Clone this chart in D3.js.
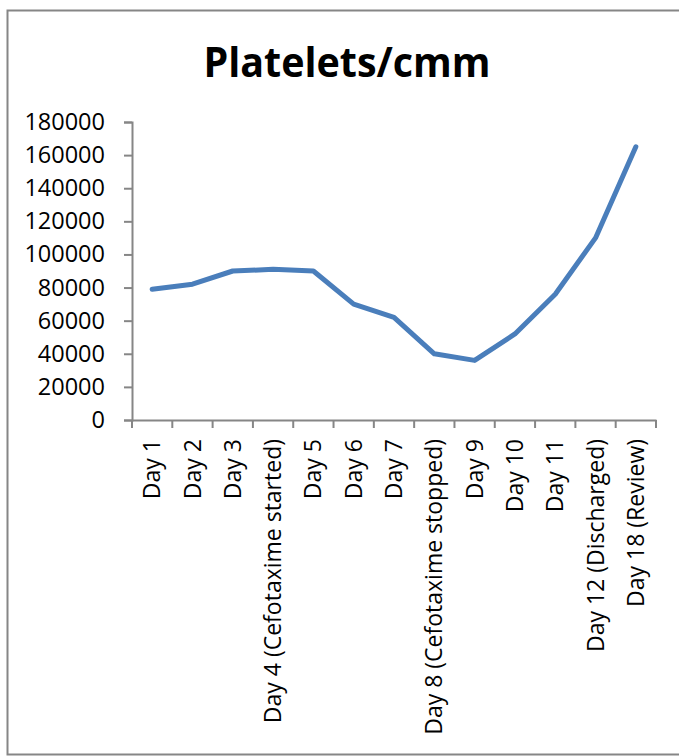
<!DOCTYPE html>
<html>
<head>
<meta charset="utf-8">
<script src="https://cdn.jsdelivr.net/npm/d3@7"></script>
<style>
  html, body { margin: 0; padding: 0; background: #fff; }
  svg { display: block; }
</style>
</head>
<body>
<div id="chart"></div>
<script>
window.onload = function() {
    'use strict';

    var days = [
        "Day 1", "Day 2", "Day 3", "Day 4 (Cefotaxime started)", "Day 5",
        "Day 6", "Day 7", "Day 8 (Cefotaxime stopped)", "Day 9", "Day 10",
        "Day 11", "Day 12 (Discharged)", "Day 18 (Review)"
    ];
    var platelets = [79000, 82000, 90000, 91000, 90000, 70000, 62000,
                     40000, 36000, 52000, 76000, 110000, 165000];
    var yTicks = [0, 20000, 40000, 60000, 80000, 100000, 120000, 140000, 160000, 180000];

    var width = 679;
    var height = 756;
    var font = "'Open Sans', 'Liberation Sans', sans-serif";
    var axisColor = '#868686';

    var svg = d3.select('#chart')
        .append('svg')
        .attr('width', width)
        .attr('height', height);

    // chart frame (right edge runs off the picture)
    svg.append('path')
        .attr('d', 'M' + (width + 5) + ',10.5 H7.5 V754.5 H' + (width + 5))
        .attr('fill', 'none')
        .attr('stroke', '#868686')
        .attr('stroke-width', 2);

    svg.append('text')
        .attr('x', 347)
        .attr('y', 77)
        .attr('text-anchor', 'middle')
        .attr('font-family', font)
        .attr('font-weight', 'bold')
        .attr('font-size', 41)
        .attr('textLength', 287)
        .attr('lengthAdjust', 'spacingAndGlyphs')
        .attr('fill', '#000')
        .text('Platelets/cmm');

    var x = d3.scaleBand().domain(days).range([132, 656]);
    var y = d3.scaleLinear().domain([0, 180000]).range([420, 122]);

    var yAxis = svg.append('g')
        .attr('transform', 'translate(132,0)')
        .call(d3.axisLeft(y).tickValues(yTicks).tickSize(8).tickPadding(19).tickFormat(d3.format('d')));
    yAxis.selectAll('text')
        .attr('font-family', font)
        .attr('font-size', 23.5)
        .attr('fill', '#000');

    var xAxis = svg.append('g')
        .attr('transform', 'translate(0,420)')
        .call(d3.axisBottom(x).tickSize(0).tickFormat(''));
    xAxis.selectAll('.tick').remove();

    // tick marks at band boundaries, as in the original
    var bounds = days.map(function(d) { return x(d); }).concat([x.range()[1]]);
    xAxis.selectAll('line.bound')
        .data(bounds)
        .enter()
        .append('line')
        .attr('class', 'bound')
        .attr('x1', function(d) { return d; })
        .attr('x2', function(d) { return d; })
        .attr('y1', 0)
        .attr('y2', 8);

    xAxis.selectAll('text.lab')
        .data(days)
        .enter()
        .append('text')
        .attr('class', 'lab')
        .attr('transform', function(d) {
            return 'translate(' + (x(d) + x.bandwidth() / 2) + ',19) rotate(-90)';
        })
        .attr('dy', '0.35em')
        .attr('text-anchor', 'end')
        .attr('font-family', font)
        .attr('font-size', 23)
        .attr('fill', '#000')
        .text(function(d) { return d; });

    svg.selectAll('.domain, line').attr('stroke', axisColor).attr('stroke-width', 2);
    yAxis.selectAll('.tick line').attr('stroke', axisColor).attr('stroke-width', 2);

    var line = d3.line()
        .x(function(d, i) { return x(days[i]) + x.bandwidth() / 2; })
        .y(function(d) { return y(d); });

    svg.append('path')
        .datum(platelets)
        .attr('d', line)
        .attr('fill', 'none')
        .attr('stroke', '#4a7ebb')
        .attr('stroke-width', 5)
        .attr('stroke-linecap', 'round')
        .attr('stroke-linejoin', 'round');
};
</script>
</body>
</html>
